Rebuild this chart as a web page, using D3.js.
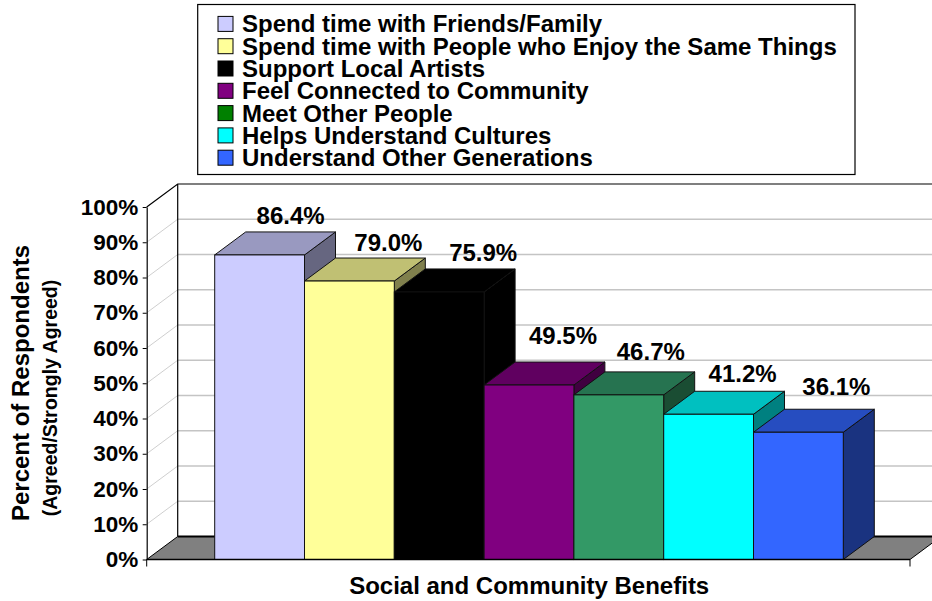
<!DOCTYPE html>
<html>
<head>
<meta charset="utf-8">
<script src="https://cdn.jsdelivr.net/npm/d3@7"></script>
<style>
  html, body { margin: 0; padding: 0; background: #fff; }
  svg { display: block; font-family: "Liberation Sans", Arial, sans-serif; font-weight: bold; }
</style>
</head>
<body>
<svg id="chart" width="932" height="601"></svg>
<script>
// ---- data ----
const categories = [
  "Spend time with Friends/Family",
  "Spend time with People who Enjoy the Same Things",
  "Support Local Artists",
  "Feel Connected to Community",
  "Meet Other People",
  "Helps Understand Cultures",
  "Understand Other Generations"
];
const values = [0.864, 0.790, 0.759, 0.495, 0.467, 0.412, 0.361];
const yTicks = [0, 0.1, 0.2, 0.3, 0.4, 0.5, 0.6, 0.7, 0.8, 0.9, 1.0];
const xTitle = "Social and Community Benefits";
const yTitleLines = ["Percent of Respondents", "(Agreed/Strongly Agreed)"];

// ---- colours (front face, top face, side face, legend key) ----
const frontColors  = ["#CCCCFF", "#FFFF99", "#000000", "#800080", "#339966", "#00FFFF", "#3366FF"];
const topColors    = ["#9999C0", "#C0C073", "#000000", "#600060", "#267350", "#00C0C0", "#264DC0"];
const sideColors   = ["#666680", "#80804D", "#000000", "#400040", "#1A4D33", "#008080", "#1A3380"];
const legendColors = ["#CCCCFF", "#FFFF99", "#000000", "#800080", "#008000", "#00FFFF", "#3366FF"];

// per-label nudges [dx, lift above the back top edge]
const labelNudge = [[0, 8], [8, 7.5], [13, 8], [3, 18], [1, 12], [3, 9], [7, 14]];

// ---- layout ----
const svg = d3.select("#chart");
const DX = 31, DY = 23;          // depth offset of the 3-D box
const axisX = 146.7, floorRight = 910;

const y = d3.scaleLinear().domain([0, 1]).range([559.5, 207]);
const x = d3.scaleBand().domain(categories).range([214.7, 843.3]).padding(0);
const bw = x.bandwidth();
const y0 = y(0), y1 = y(1);

const pts = a => a.map(p => p.join(",")).join(" ");

// back wall
svg.append("rect")
  .attr("x", axisX + DX).attr("y", y1 - DY)
  .attr("width", floorRight - axisX).attr("height", y0 - y1)
  .attr("fill", "#fff");

// gridlines on back wall and side wall
const inner = yTicks.filter(t => t > 0 && t < 1);
svg.append("g").selectAll("line").data(inner).join("line")
  .attr("x1", axisX + DX).attr("x2", floorRight + DX)
  .attr("y1", d => y(d) - DY).attr("y2", d => y(d) - DY)
  .attr("stroke", "#c4c4c4").attr("stroke-width", 1.5);
svg.append("g").selectAll("line").data(inner).join("line")
  .attr("x1", axisX).attr("x2", axisX + DX)
  .attr("y1", d => y(d)).attr("y2", d => y(d) - DY)
  .attr("stroke", "#cfcfcf").attr("stroke-width", 1);

// wall outlines
svg.append("polyline")
  .attr("points", pts([[axisX, y1], [axisX + DX, y1 - DY], [floorRight + DX + 40, y1 - DY]]))
  .attr("fill", "none").attr("stroke", "#000").attr("stroke-width", 1.2);
svg.append("line")
  .attr("x1", axisX + DX).attr("x2", axisX + DX)
  .attr("y1", y1 - DY).attr("y2", y0 - DY)
  .attr("stroke", "#000").attr("stroke-width", 1.2);

// floor
svg.append("polygon")
  .attr("points", pts([[axisX, y0], [floorRight, y0], [floorRight + DX, y0 - DY], [axisX + DX, y0 - DY]]))
  .attr("fill", "#808080").attr("stroke", "#000").attr("stroke-width", 1);
svg.append("line")
  .attr("x1", axisX + DX).attr("x2", floorRight + DX)
  .attr("y1", y0 - DY).attr("y2", y0 - DY)
  .attr("stroke", "#000").attr("stroke-width", 2);

// bars
const bars = svg.append("g").selectAll("g").data(categories).join("g");
bars.each(function (c, i) {
  const g = d3.select(this);
  const xa = x(c), xb = xa + bw, yt = y(values[i]);
  g.append("polygon")
    .attr("points", pts([[xb, yt], [xb + DX, yt - DY], [xb + DX, y0 - DY], [xb, y0]]))
    .attr("fill", sideColors[i]).attr("stroke", "#111").attr("stroke-width", 1);
  g.append("polygon")
    .attr("points", pts([[xa, yt], [xb, yt], [xb + DX, yt - DY], [xa + DX, yt - DY]]))
    .attr("fill", topColors[i]).attr("stroke", "#111").attr("stroke-width", 1);
  g.append("rect")
    .attr("x", xa).attr("y", yt).attr("width", bw).attr("height", y0 - yt)
    .attr("fill", frontColors[i]).attr("stroke", "#111").attr("stroke-width", 1);
});

// value labels
const fmt = d3.format(".1%");
svg.append("g").selectAll("text").data(categories).join("text")
  .attr("x", (c, i) => x(c) + bw / 2 + DX + labelNudge[i][0])
  .attr("y", (c, i) => y(values[i]) - DY - labelNudge[i][1])
  .attr("text-anchor", "middle")
  .attr("font-size", 24)
  .attr("fill", "#000")
  .text((c, i) => fmt(values[i]));

// front value axis
const yAxis = d3.axisLeft(y).tickValues(yTicks).tickFormat(d3.format(".0%"))
  .tickSize(4).tickSizeOuter(0).tickPadding(4.5);
const ya = svg.append("g").attr("transform", `translate(${axisX},0)`).call(yAxis);
ya.select(".domain").attr("stroke", "#000").attr("stroke-width", 1.2);
ya.selectAll(".tick line").attr("stroke", "#000");
ya.selectAll(".tick text")
  .attr("font-family", "Liberation Sans, Arial, sans-serif")
  .attr("font-weight", "bold").attr("font-size", 22.5).attr("fill", "#000");

// bottom category axis
svg.append("line")
  .attr("x1", axisX).attr("x2", floorRight).attr("y1", y0).attr("y2", y0)
  .attr("stroke", "#000").attr("stroke-width", 1.5);
svg.append("g").selectAll("line").data([axisX, floorRight]).join("line")
  .attr("x1", d => d).attr("x2", d => d).attr("y1", y0).attr("y2", y0 + 7)
  .attr("stroke", "#000").attr("stroke-width", 1);

// axis titles
svg.append("text")
  .attr("x", 529.2).attr("y", 594)
  .attr("text-anchor", "middle").attr("font-size", 24)
  .text(xTitle);
const ytSizes = [24, 19.5], ytX = [29, 57], ytY = [383, 398];
yTitleLines.forEach((t, i) => {
  svg.append("text")
    .attr("transform", `translate(${ytX[i]},${ytY[i]}) rotate(-90)`)
    .attr("text-anchor", "middle").attr("font-size", ytSizes[i])
    .text(t);
});

// legend
const leg = svg.append("g");
leg.append("rect")
  .attr("x", 197.7).attr("y", 4.5).attr("width", 657.3).attr("height", 170)
  .attr("fill", "#fff").attr("stroke", "#000").attr("stroke-width", 1.2);
const rows = leg.selectAll("g.row").data(categories).join("g")
  .attr("class", "row")
  .attr("transform", (d, i) => `translate(0,${16.4 + 22.3 * i})`);
rows.append("rect")
  .attr("x", 218).attr("y", 0).attr("width", 15).attr("height", 15)
  .attr("fill", (d, i) => legendColors[i]).attr("stroke", "#000").attr("stroke-width", 1);
rows.append("text")
  .attr("x", 242).attr("y", 16)
  .attr("font-size", 24)
  .text(d => d);
</script>
</body>
</html>
